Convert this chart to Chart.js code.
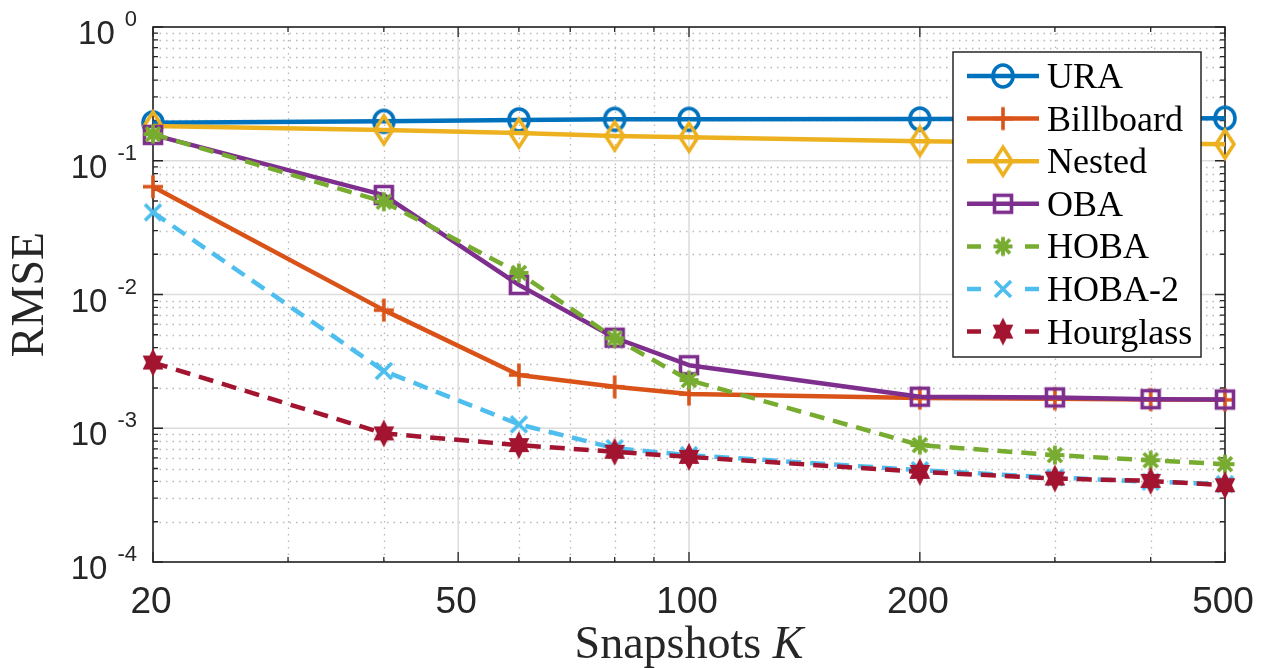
<!DOCTYPE html>
<html>
<head>
<meta charset="utf-8">
<script src="https://cdn.jsdelivr.net/npm/chart.js@4.4.1/dist/chart.umd.min.js"></script>
<style>
  html, body { margin: 0; padding: 0; background: #ffffff; }
  canvas { display: block; }
</style>
</head>
<body>
<canvas id="rmse" width="1266" height="668"></canvas>
<script>
// Number of snapshots K (x axis, logarithmic)
const snapshots = [20, 40, 60, 80, 100, 200, 300, 400, 500];

// RMSE of each array geometry
const ura        = [0.192, 0.197, 0.202, 0.204, 0.204, 0.205, 0.206, 0.207, 0.208];
const billboard  = [0.0640, 0.00764, 0.00250, 0.00204, 0.00180, 0.00168, 0.00166, 0.00164, 0.00163];
const nested     = [0.182, 0.170, 0.161, 0.153, 0.150, 0.140, 0.137, 0.135, 0.133];
const oba        = [0.156, 0.0554, 0.0118, 0.00475, 0.00296, 0.00172, 0.00170, 0.00165, 0.00164];
const hoba       = [0.158, 0.0494, 0.0145, 0.00470, 0.00229, 0.000748, 0.000630, 0.000577, 0.000539];
const hoba2      = [0.0411, 0.00268, 0.00107, 0.000710, 0.000630, 0.000486, 0.000428, 0.000398, 0.000382];
const hourglass  = [0.00310, 0.000915, 0.000748, 0.000667, 0.000611, 0.000472, 0.000421, 0.000404, 0.000375];

// Axis ticks
const xTickLabels = [20, 50, 100, 200, 500];
const xMinorTicks = [30, 40, 60, 70, 80, 90, 300, 400];
const yDecades = [0, -1, -2, -3, -4];

const seriesNames = ['URA', 'Billboard', 'Nested', 'OBA', 'HOBA', 'HOBA-2', 'Hourglass'];
const seriesValues = [ura, billboard, nested, oba, hoba, hoba2, hourglass];
const seriesColors = ['#0072BD', '#D95319', '#EDB120', '#7E2F8E', '#77AC30', '#4DBEEE', '#A2142F'];
const seriesMarkers = ['circle', 'plus', 'diamond', 'square', 'asterisk', 'cross', 'hexagram'];
const seriesDashed = [false, false, false, false, true, true, true];

const AXIS_COLOR = '#262626';
const SANS = '"Liberation Sans", Arial, Helvetica, sans-serif';
const SERIF = '"Liberation Serif", "Times New Roman", serif';

// Marker glyphs drawn onto small canvases and used as point styles
function makeMarker(kind, color) {
  const S = 40, c = S / 2;
  const cv = document.createElement('canvas');
  cv.width = S; cv.height = S;
  const g = cv.getContext('2d');
  g.strokeStyle = color; g.fillStyle = color;
  g.lineWidth = 3.6; g.lineJoin = 'miter'; g.lineCap = 'butt';
  g.beginPath();
  switch (kind) {
    case 'circle':
      g.ellipse(c, c, 10, 11, 0, 0, Math.PI * 2);
      g.stroke();
      break;
    case 'plus':
      g.moveTo(c - 10, c); g.lineTo(c + 10, c);
      g.moveTo(c, c - 11.5); g.lineTo(c, c + 11.5);
      g.stroke();
      break;
    case 'diamond':
      g.moveTo(c, c - 14); g.lineTo(c + 9, c);
      g.lineTo(c, c + 14); g.lineTo(c - 9, c); g.closePath();
      g.stroke();
      break;
    case 'square':
      g.rect(c - 8.5, c - 8.5, 17, 17);
      g.stroke();
      break;
    case 'asterisk': {
      g.lineWidth = 3.8;
      const r = 9.5, d = 7;
      g.moveTo(c - r, c); g.lineTo(c + r, c);
      g.moveTo(c, c - r); g.lineTo(c, c + r);
      g.moveTo(c - d, c - d); g.lineTo(c + d, c + d);
      g.moveTo(c - d, c + d); g.lineTo(c + d, c - d);
      g.stroke();
      break;
    }
    case 'cross': {
      const d = 8;
      g.moveTo(c - d, c - d); g.lineTo(c + d, c + d);
      g.moveTo(c - d, c + d); g.lineTo(c + d, c - d);
      g.stroke();
      break;
    }
    case 'hexagram': {
      const rx = 12, ry = 14;
      for (const start of [-90, 90]) {
        g.beginPath();
        for (let k = 0; k < 3; k++) {
          const a = (start + k * 120) * Math.PI / 180;
          const px = c + rx * Math.cos(a), py = c + ry * Math.sin(a);
          if (k === 0) g.moveTo(px, py); else g.lineTo(px, py);
        }
        g.closePath();
        g.fill();
      }
      break;
    }
  }
  return cv;
}

const markerImages = seriesMarkers.map((m, i) => makeMarker(m, seriesColors[i]));

const datasets = seriesNames.map((name, i) => ({
  label: name,
  data: snapshots.map((k, j) => ({ x: k, y: seriesValues[i][j] })),
  borderColor: seriesColors[i],
  backgroundColor: seriesColors[i],
  borderWidth: 4.5,
  borderDash: seriesDashed[i] ? [15, 9] : [],
  borderJoinStyle: 'round',
  pointStyle: markerImages[i],
  pointRadius: 10,
  pointHoverRadius: 10,
  tension: 0,
  clip: false,
  order: seriesNames.length - 1 - i
}));

// Grid, box and inward ticks drawn under the data
const frameBelow = {
  id: 'frameBelow',
  beforeDatasetsDraw(chart) {
    const { ctx, chartArea: a, scales: { x, y } } = chart;
    ctx.save();
    // minor grid (dotted)
    ctx.strokeStyle = 'rgba(0,0,0,0.28)';
    ctx.lineWidth = 1.3;
    ctx.setLineDash([1.5, 5]);
    ctx.beginPath();
    xMinorTicks.forEach(v => {
      const px = Math.round(x.getPixelForValue(v)) + 0.5;
      ctx.moveTo(px, a.top); ctx.lineTo(px, a.bottom);
    });
    for (let e = -4; e < 0; e++) {
      for (let m = 2; m <= 9; m++) {
        const py = Math.round(y.getPixelForValue(m * Math.pow(10, e))) + 0.5;
        ctx.moveTo(a.left, py); ctx.lineTo(a.right, py);
      }
    }
    ctx.stroke();
    // major grid (solid)
    ctx.setLineDash([]);
    ctx.strokeStyle = '#dcdcdc';
    ctx.lineWidth = 1.5;
    ctx.beginPath();
    xTickLabels.forEach(v => {
      const px = x.getPixelForValue(v);
      ctx.moveTo(px, a.top); ctx.lineTo(px, a.bottom);
    });
    yDecades.forEach(e => {
      const py = y.getPixelForValue(Math.pow(10, e));
      ctx.moveTo(a.left, py); ctx.lineTo(a.right, py);
    });
    ctx.stroke();
    // inward ticks on all four sides
    ctx.strokeStyle = AXIS_COLOR;
    ctx.lineWidth = 1.3;
    ctx.beginPath();
    const tick = (len, px, vertical) => {
      if (vertical) {
        ctx.moveTo(px, a.bottom); ctx.lineTo(px, a.bottom - len);
        ctx.moveTo(px, a.top); ctx.lineTo(px, a.top + len);
      } else {
        ctx.moveTo(a.left, px); ctx.lineTo(a.left + len, px);
        ctx.moveTo(a.right, px); ctx.lineTo(a.right - len, px);
      }
    };
    xTickLabels.forEach(v => tick(10, x.getPixelForValue(v), true));
    xMinorTicks.forEach(v => tick(5, x.getPixelForValue(v), true));
    yDecades.forEach(e => tick(10, y.getPixelForValue(Math.pow(10, e)), false));
    for (let e = -4; e < 0; e++) {
      for (let m = 2; m <= 9; m++) tick(5, y.getPixelForValue(m * Math.pow(10, e)), false);
    }
    ctx.stroke();
    // axes box
    ctx.lineWidth = 1.6;
    ctx.strokeRect(a.left, a.top, a.right - a.left, a.bottom - a.top);
    ctx.restore();
  }
};

// Tick labels, axis titles and legend drawn on top
const labelsAbove = {
  id: 'labelsAbove',
  afterDatasetsDraw(chart) {
    const { ctx, chartArea: a, scales: { x, y } } = chart;
    ctx.save();
    ctx.fillStyle = AXIS_COLOR;
    // x tick labels
    ctx.font = '37px ' + SANS;
    ctx.textAlign = 'center';
    ctx.textBaseline = 'alphabetic';
    xTickLabels.forEach(v => ctx.fillText(String(v), x.getPixelForValue(v) - 2, 613));
    // y tick labels 10^e
    const rightEdge = a.left - 16;
    yDecades.forEach(e => {
      const py = y.getPixelForValue(Math.pow(10, e));
      const expText = e === 0 ? '0' : '-' + Math.abs(e);
      ctx.textAlign = 'right';
      ctx.font = '22px ' + SANS;
      const ew = ctx.measureText(expText).width;
      ctx.fillText(expText, rightEdge, py - 1);
      ctx.font = '33px ' + SANS;
      ctx.fillText('10', rightEdge - ew - 10, py + 17);
    });
    // x axis title
    ctx.fillStyle = '#262626';
    ctx.textAlign = 'left';
    const t1 = 'Snapshots ';
    ctx.font = 'italic 46px ' + SERIF;
    const wK = ctx.measureText('K').width;
    ctx.font = '46px ' + SERIF;
    const w1 = ctx.measureText(t1).width;
    const cx = (a.left + a.right) / 2;
    const x0 = cx - (w1 + wK) / 2;
    ctx.fillText(t1, x0, 658);
    ctx.font = 'italic 46px ' + SERIF;
    ctx.fillText('K', x0 + w1, 658);
    // y axis title
    ctx.save();
    ctx.translate(43, (a.top + a.bottom) / 2);
    ctx.rotate(-Math.PI / 2);
    ctx.textAlign = 'center';
    ctx.font = '46px ' + SERIF;
    ctx.fillText('RMSE', 0, 0);
    ctx.restore();

    // legend
    const lx = 953, ly = 52, lw = 248, lh = 305;
    ctx.fillStyle = '#ffffff';
    ctx.fillRect(lx, ly, lw, lh);
    ctx.strokeStyle = AXIS_COLOR;
    ctx.lineWidth = 1.5;
    ctx.strokeRect(lx, ly, lw, lh);
    seriesNames.forEach((name, i) => {
      const ry = 76 + i * 42.6;
      ctx.strokeStyle = seriesColors[i];
      ctx.lineWidth = 4.5;
      ctx.setLineDash([]);
      ctx.beginPath();
      if (seriesDashed[i]) {
        ctx.moveTo(967, ry); ctx.lineTo(981, ry);
        ctx.moveTo(1025, ry); ctx.lineTo(1039, ry);
      } else {
        ctx.moveTo(967, ry); ctx.lineTo(1039, ry);
      }
      ctx.stroke();
      const img = markerImages[i];
      ctx.drawImage(img, 1003 - img.width / 2, ry - img.height / 2);
      ctx.fillStyle = '#000000';
      ctx.textAlign = 'left';
      ctx.font = '36px ' + SERIF;
      ctx.fillText(name, 1047, ry + 12);
    });
    ctx.restore();
  }
};

new Chart(document.getElementById('rmse'), {
  type: 'line',
  data: { datasets },
  options: {
    responsive: false,
    animation: false,
    devicePixelRatio: 1,
    events: [],
    layout: { padding: { left: 153, top: 27, right: 41, bottom: 106 } },
    scales: {
      x: { type: 'logarithmic', min: 20, max: 500, display: false },
      y: { type: 'logarithmic', min: 1e-4, max: 1, display: false }
    },
    plugins: { legend: { display: false }, tooltip: { enabled: false } }
  },
  plugins: [frameBelow, labelsAbove]
});
</script>
</body>
</html>
